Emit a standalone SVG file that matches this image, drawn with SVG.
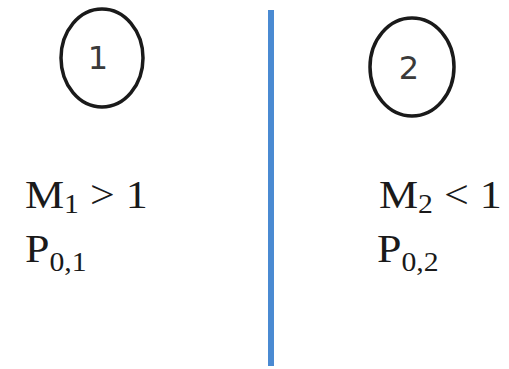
<svg xmlns="http://www.w3.org/2000/svg" width="509" height="369" viewBox="0 0 509 369">
<style>
.node{fill:none;stroke:#1a1a1a;stroke-width:3.5}
.num{font-family:"DejaVu Sans","Liberation Sans",sans-serif;font-size:32px;fill:#3a3a3a;text-anchor:middle}
.eq{font-family:"Liberation Serif","Times New Roman",serif;font-size:40px;fill:#1a1a1a}
.sub{font-size:27px}
</style>
<rect width="509" height="369" fill="#ffffff"/>
<g id="divider">
<line x1="271" y1="10" x2="271" y2="366" stroke="#4a8ad2" stroke-width="6"/>
</g>
<g id="node1">
<ellipse class="node" cx="102" cy="58" rx="41" ry="49"/>
<text class="num" x="98" y="69">1</text>
</g>
<g id="node2">
<ellipse class="node" cx="412" cy="67" rx="42" ry="49"/>
<text class="num" x="409" y="79">2</text>
</g>
<g id="labels1">
<text class="eq" transform="translate(25 208) scale(1.1 1)">M<tspan class="sub" dy="5">1</tspan><tspan dy="-5"> &gt; 1</tspan></text>
<text class="eq" transform="translate(25 262) scale(1.1 1)">P<tspan class="sub" dy="9">0,1</tspan></text>
</g>
<g id="labels2">
<text class="eq" transform="translate(379 208) scale(1.1 1)">M<tspan class="sub" dy="5">2</tspan><tspan dy="-5"> &lt; 1</tspan></text>
<text class="eq" transform="translate(377 262) scale(1.1 1)">P<tspan class="sub" dy="9">0,2</tspan></text>
</g>
</svg>
